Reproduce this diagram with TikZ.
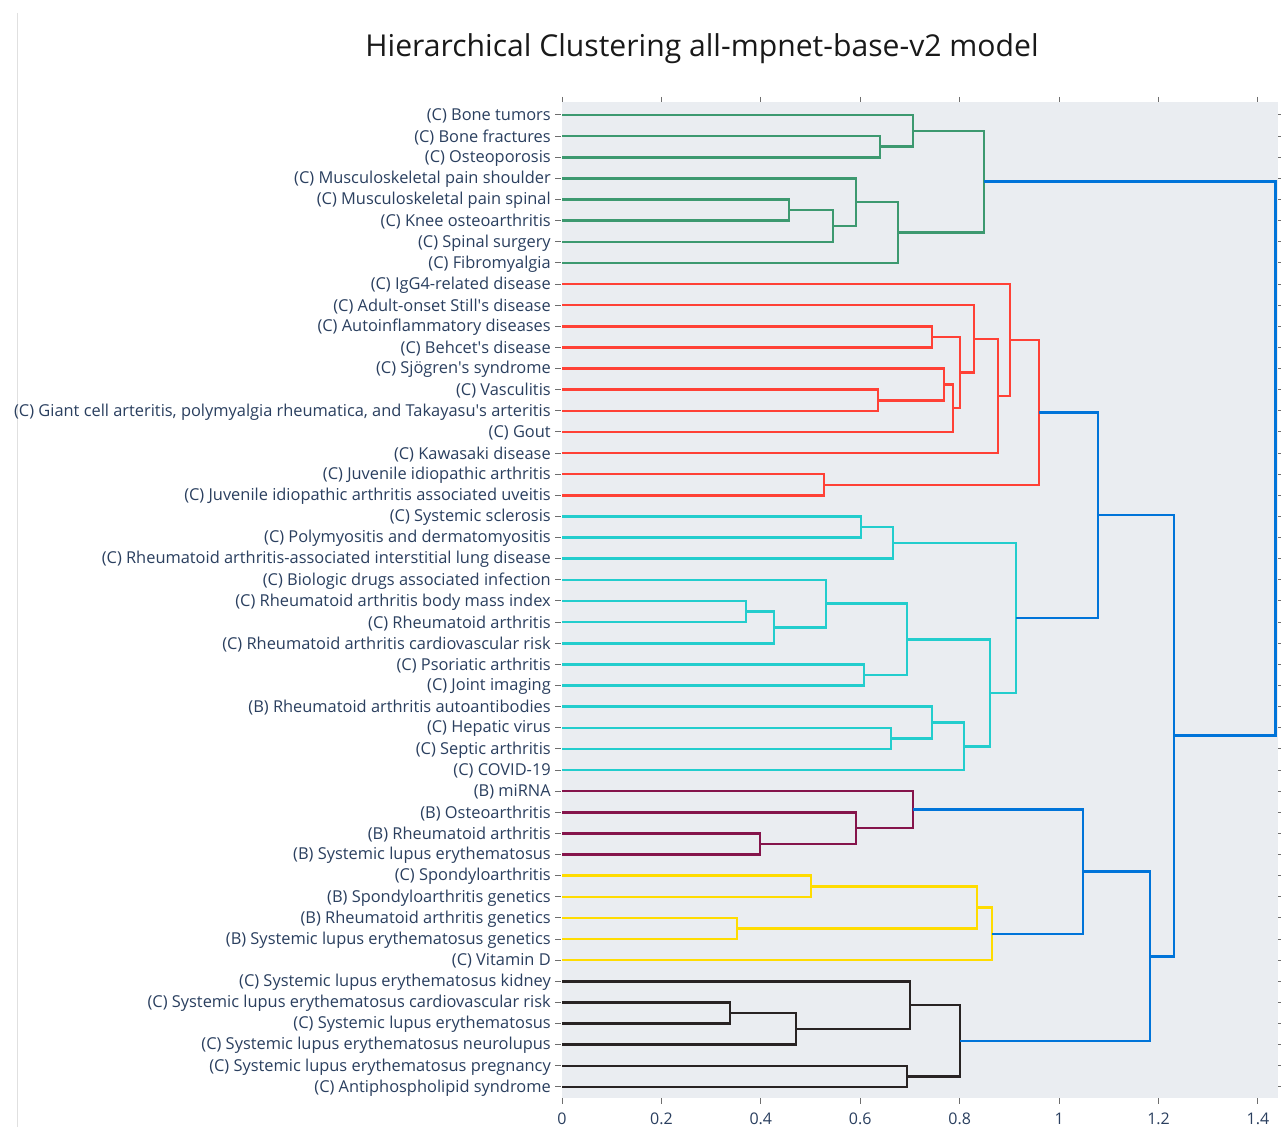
\documentclass[tikz,border=0pt]{standalone}
\usepackage{fontspec}
\setmainfont{Open Sans}
\definecolor{cgreen}{RGB}{61,153,112}
\definecolor{cred}{RGB}{255,65,54}
\definecolor{ccyan}{RGB}{35,205,205}
\definecolor{cblue}{RGB}{0,116,217}
\definecolor{cpurple}{RGB}{133,20,75}
\definecolor{cyellow}{RGB}{255,220,0}
\definecolor{cblack}{RGB}{40,35,35}
\definecolor{plotbg}{RGB}{234,237,241}
\definecolor{txt}{RGB}{42,63,95}
\definecolor{tickc}{RGB}{110,110,110}
\newcommand\dl[6]{\draw[link,#1] (#2,{115+21.13*#3}) -- (#4,{115+21.13*#3}) -- (#4,{115+21.13*#6}) -- (#5,{115+21.13*#6});}
\newcommand\lab[2]{\node[leaf] (L#1) at (551,{116+21.13*#1}) {#2};}
\newcommand\q{\textquotesingle}
\begin{document}
\begin{tikzpicture}[x=0.75pt,y=-0.75pt,
  link/.style={line width=1.9pt,line join=miter},
  leaf/.style={anchor=east,inner sep=0pt,text=txt,font=\fontsize{12.3}{14}\selectfont},
  ticklab/.style={inner sep=0pt,text=txt,font=\fontsize{12}{14}\selectfont},
  tk/.style={draw=tickc,line width=0.75pt}]
\fill[white] (0,0) rectangle (1281,1127);
\useasboundingbox (0,0) rectangle (1281,1127);
\draw[black!12,line width=0.9pt] (17.5,13) -- (17.5,1127);
\fill[plotbg] (562,102) rectangle (1278,1098);
\node[font=\fontsize{22.6}{27}\selectfont,text=black!90] (title) at (702,49) {Hierarchical Clustering all-mpnet-base-v2 model};
\foreach \v/\t [count=\k] in {0/0,0.2/0.2,0.4/0.4,0.6/0.6,0.8/0.8,1/1,1.2/1.2,1.4/1.4}{
  \path[tk] ({562+497.1*\v},97) -- ({562+497.1*\v},102);
  \path[tk] ({562+497.1*\v},1098) -- ({562+497.1*\v},1104);
  \node[ticklab] (X\k) at ({562+497.1*\v},1119) {\t};
}
\foreach \i in {0,...,46}{
  \path[tk] (555,{115+21.13*\i}) -- (561,{115+21.13*\i});
  \path[tk] (1278,{115+21.13*\i}) -- (1281,{115+21.13*\i});
}
\lab{0}{(C) Bone tumors}
\lab{1}{(C) Bone fractures}
\lab{2}{(C) Osteoporosis}
\lab{3}{(C) Musculoskeletal pain shoulder}
\lab{4}{(C) Musculoskeletal pain spinal}
\lab{5}{(C) Knee osteoarthritis}
\lab{6}{(C) Spinal surgery}
\lab{7}{(C) Fibromyalgia}
\lab{8}{(C) IgG4-related disease}
\lab{9}{(C) Adult-onset Still\q s disease}
\lab{10}{(C) Autoinflammatory diseases}
\lab{11}{(C) Behcet\q s disease}
\lab{12}{(C) Sjögren\q s syndrome}
\lab{13}{(C) Vasculitis}
\lab{14}{(C) Giant cell arteritis, polymyalgia rheumatica, and Takayasu\q s arteritis}
\lab{15}{(C) Gout}
\lab{16}{(C) Kawasaki disease}
\lab{17}{(C) Juvenile idiopathic arthritis}
\lab{18}{(C) Juvenile idiopathic arthritis associated uveitis}
\lab{19}{(C) Systemic sclerosis}
\lab{20}{(C) Polymyositis and dermatomyositis}
\lab{21}{(C) Rheumatoid arthritis-associated interstitial lung disease}
\lab{22}{(C) Biologic drugs associated infection}
\lab{23}{(C) Rheumatoid arthritis body mass index}
\lab{24}{(C) Rheumatoid arthritis}
\lab{25}{(C) Rheumatoid arthritis cardiovascular risk}
\lab{26}{(C) Psoriatic arthritis}
\lab{27}{(C) Joint imaging}
\lab{28}{(B) Rheumatoid arthritis autoantibodies}
\lab{29}{(C) Hepatic virus}
\lab{30}{(C) Septic arthritis}
\lab{31}{(C) COVID-19}
\lab{32}{(B) miRNA}
\lab{33}{(B) Osteoarthritis}
\lab{34}{(B) Rheumatoid arthritis}
\lab{35}{(B) Systemic lupus erythematosus}
\lab{36}{(C) Spondyloarthritis}
\lab{37}{(B) Spondyloarthritis genetics}
\lab{38}{(B) Rheumatoid arthritis genetics}
\lab{39}{(B) Systemic lupus erythematosus genetics}
\lab{40}{(C) Vitamin D}
\lab{41}{(C) Systemic lupus erythematosus kidney}
\lab{42}{(C) Systemic lupus erythematosus cardiovascular risk}
\lab{43}{(C) Systemic lupus erythematosus}
\lab{44}{(C) Systemic lupus erythematosus neurolupus}
\lab{45}{(C) Systemic lupus erythematosus pregnancy}
\lab{46}{(C) Antiphospholipid syndrome}
% green
\dl{cgreen}{562}{1}{880}{562}{2}
\dl{cgreen}{562}{0}{913}{880}{1.5}
\dl{cgreen}{562}{4}{789}{562}{5}
\dl{cgreen}{789}{4.5}{833}{562}{6}
\dl{cgreen}{562}{3}{856}{833}{5.25}
\dl{cgreen}{856}{4.125}{898}{562}{7}
\dl{cgreen}{913}{0.75}{984}{898}{5.5625}
% red
\dl{cred}{562}{10}{932}{562}{11}
\dl{cred}{562}{13}{878}{562}{14}
\dl{cred}{562}{12}{944}{878}{13.5}
\dl{cred}{944}{12.75}{953}{562}{15}
\dl{cred}{932}{10.5}{960}{953}{13.875}
\dl{cred}{562}{9}{974}{960}{12.1875}
\dl{cred}{974}{10.59375}{998}{562}{16}
\dl{cred}{562}{8}{1010}{998}{13.296875}
\dl{cred}{562}{17}{824}{562}{18}
\dl{cred}{1010}{10.6484}{1039}{824}{17.5}
% cyan
\dl{ccyan}{562}{19}{861}{562}{20}
\dl{ccyan}{861}{19.5}{893}{562}{21}
\dl{ccyan}{562}{23}{746}{562}{24}
\dl{ccyan}{746}{23.5}{774}{562}{25}
\dl{ccyan}{562}{22}{826}{774}{24.25}
\dl{ccyan}{562}{26}{864}{562}{27}
\dl{ccyan}{826}{23.125}{907}{864}{26.5}
\dl{ccyan}{562}{29}{891}{562}{30}
\dl{ccyan}{562}{28}{932}{891}{29.5}
\dl{ccyan}{932}{28.75}{964}{562}{31}
\dl{ccyan}{907}{24.8125}{990}{964}{29.875}
\dl{ccyan}{893}{20.25}{1016}{990}{27.34375}
% purple
\dl{cpurple}{562}{34}{760}{562}{35}
\dl{cpurple}{562}{33}{856}{760}{34.5}
\dl{cpurple}{562}{32}{913}{856}{33.75}
% yellow
\dl{cyellow}{562}{36}{811}{562}{37}
\dl{cyellow}{562}{38}{737}{562}{39}
\dl{cyellow}{811}{36.5}{977}{737}{38.5}
\dl{cyellow}{977}{37.5}{992}{562}{40}
% black
\dl{cblack}{562}{42}{730}{562}{43}
\dl{cblack}{730}{42.5}{796}{562}{44}
\dl{cblack}{562}{41}{910}{796}{43.25}
\dl{cblack}{562}{45}{907}{562}{46}
\dl{cblack}{910}{42.125}{960}{907}{45.5}
% blue
\dl{cblue}{1039}{14.0742}{1098}{1016}{23.7969}
\dl{cblue}{913}{32.875}{1083}{992}{38.75}
\dl{cblue}{1083}{35.8125}{1150}{960}{43.8125}
\dl{cblue}{1098}{18.9355}{1174}{1150}{39.8125}
\dl{cblue}{984}{3.15625}{1275.5}{1174}{29.374}
\end{tikzpicture}
\end{document}
